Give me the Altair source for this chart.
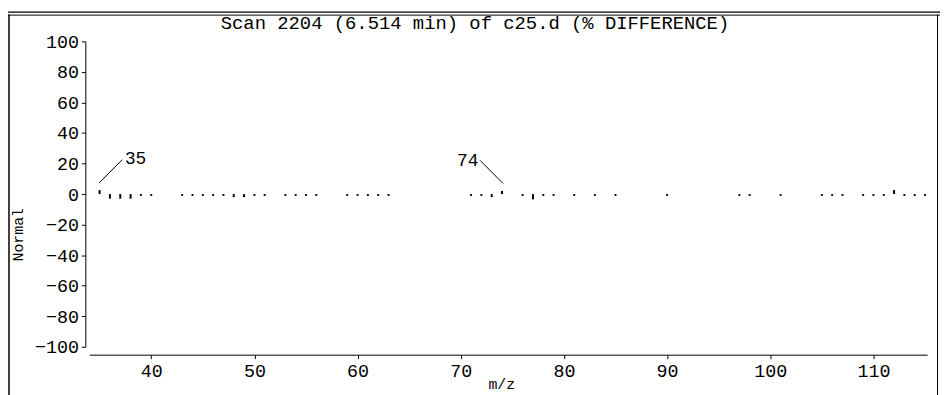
import altair as alt
import pandas as pd

# ---- data ----
mz = [35, 36, 37, 38, 39, 40, 43, 44, 45, 46, 47, 48, 49, 50, 51,
      53, 54, 55, 56, 59, 60, 61, 62, 63, 71, 72, 73, 74, 76, 77, 78, 79,
      81, 83, 85, 90, 97, 98, 101, 105, 106, 107, 109, 110, 111, 112,
      113, 114, 115]
pct_diff = [2.6, -3.0, -3.0, -3.0, -1.2, -1.2, -1.2, -1.2, -1.2, -1.2, -1.2, -2.0, -2.0, -1.2, -1.2,
            -1.2, -1.2, -1.2, -1.2, -1.2, -1.2, -1.2, -1.2, -1.2, -1.2, -1.2, -2.0, 2.0, -1.2, -3.5, -1.2, -1.2,
            -1.2, -1.2, -1.2, -1.2, -1.2, -1.2, -1.2, -1.2, -1.2, -1.2, -1.2, -1.2, -1.2, 2.6,
            -1.2, -1.2, -1.2]

label_text = ["35", "74"]
label_x = [37.45, 71.71]
label_y = [22.7, 21.8]
label_align = ["left", "right"]
leader_x = [34.96, 71.87]
leader_y = [7.3, 22.1]
leader_x2 = [37.19, 74.1]
leader_y2 = [22.5, 6.9]

x_ticks = [40, 50, 60, 70, 80, 90, 100, 110]
y_ticks = [-100, -80, -60, -40, -20, 0, 20, 40, 60, 80, 100]

title_text = "Scan 2204 (6.514 min) of c25.d (% DIFFERENCE)"
y_title = "Normal"
x_title = "m/z"

FONT = "Liberation Mono"

sticks_df = pd.DataFrame({"mz": mz, "v": pct_diff, "base": [0] * len(mz)})
labels_df = pd.DataFrame({"t": label_text, "x": label_x, "y": label_y, "a": label_align})
leaders_df = pd.DataFrame({"x": leader_x, "y": leader_y, "x2": leader_x2, "y2": leader_y2})

xscale = alt.Scale(domain=[34, 115.2], nice=False, zero=False)
yscale = alt.Scale(domain=[-100, 100], nice=False)

xaxis = alt.Axis(values=x_ticks, offset=8, title=None, grid=False, tickSize=4,
                 labelPadding=3, labelFont=FONT, labelFontSize=18.5, labelColor="black",
                 domainColor="black", tickColor="black", labelFlush=False,
                 labelOverlap=False, labelBound=False)
yaxis = alt.Axis(values=y_ticks, offset=4, title=None, grid=False, tickSize=4,
                 labelPadding=3, labelFont=FONT, labelFontSize=18.5, labelColor="black",
                 domainColor="black", tickColor="black", labelFlush=False,
                 labelOverlap=False, labelBound=False)

X = lambda f: alt.X(f, scale=xscale, axis=xaxis)
Y = lambda f: alt.Y(f, scale=yscale, axis=yaxis)

sticks = alt.Chart(sticks_df).mark_rule(color="black", strokeWidth=2).encode(
    x=X("mz:Q"), y=Y("v:Q"), y2="base:Q",
)

leaders = alt.Chart(leaders_df).mark_rule(color="black", strokeWidth=1).encode(
    x=X("x:Q"), y=Y("y:Q"), x2="x2:Q", y2="y2:Q",
)

lab_left = alt.Chart(labels_df[labels_df.a == "left"]).mark_text(
    font=FONT, fontSize=18, align="left", baseline="middle", color="black").encode(
    x=X("x:Q"), y=Y("y:Q"), text="t:N")
lab_right = alt.Chart(labels_df[labels_df.a == "right"]).mark_text(
    font=FONT, fontSize=18, align="right", baseline="middle", color="black").encode(
    x=X("x:Q"), y=Y("y:Q"), text="t:N")

title = alt.Chart(pd.DataFrame({"t": [title_text]})).mark_text(
    font=FONT, fontSize=19, align="center", baseline="middle", color="black").encode(
    x=alt.value(389), y=alt.value(-18), text="t:N")

ytitle = alt.Chart(pd.DataFrame({"t": [y_title]})).mark_text(
    font=FONT, fontSize=15, align="center", baseline="middle", angle=270, color="black").encode(
    x=alt.value(-72), y=alt.value(195), text="t:N")

xtitle = alt.Chart(pd.DataFrame({"t": [x_title]})).mark_text(
    font=FONT, fontSize=15, align="center", baseline="middle", color="black").encode(
    x=alt.value(416), y=alt.value(346), text="t:N")

frame_df = pd.DataFrame({"k": [0]})
top1 = alt.Chart(frame_df).mark_rule(color="black", strokeWidth=1.5).encode(
    x=alt.value(-82), x2=alt.value(858), y=alt.value(-29.5))
top2 = alt.Chart(frame_df).mark_rule(color="black", strokeWidth=1).encode(
    x=alt.value(-82), x2=alt.value(858), y=alt.value(-26.5))
left_b = alt.Chart(frame_df).mark_rule(color="black", strokeWidth=1.5).encode(
    x=alt.value(-81), y=alt.value(-27), y2=alt.value(360))
right_b = alt.Chart(frame_df).mark_rule(color="black", strokeWidth=1).encode(
    x=alt.value(855.5), y=alt.value(-27), y2=alt.value(360))

chart = alt.layer(
    sticks, leaders, lab_left, lab_right, title, ytitle, xtitle, top1, top2, left_b, right_b
).properties(
    width=845, height=308,
    padding={"left": 82, "top": 32, "right": 13, "bottom": 47},
    autosize=alt.AutoSizeParams(type="none"),
    background="white",
).configure_view(stroke=None)

chart.save("out.html", embed_options={"renderer": "svg", "actions": False})
